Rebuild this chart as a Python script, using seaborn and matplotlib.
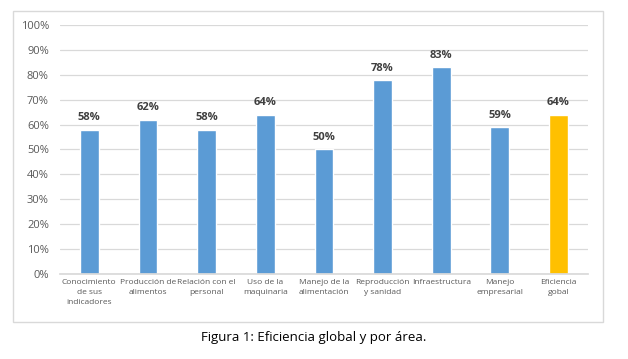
import matplotlib
matplotlib.use("Agg")
import matplotlib.pyplot as plt
import seaborn as sns
import pandas as pd
from matplotlib.patches import Rectangle
from matplotlib.ticker import PercentFormatter

areas = ["Conocimiento\nde sus\nindicadores", "Producción de\nalimentos",
         "Relación con el\npersonal", "Uso de la\nmaquinaria",
         "Manejo de la\nalimentación", "Reproducción\ny sanidad",
         "Infraestructura", "Manejo\nempresarial", "Eficiencia\ngobal"]
eficiencia = [0.58, 0.62, 0.58, 0.64, 0.50, 0.78, 0.83, 0.59, 0.64]
etiquetas = ["58%", "62%", "58%", "64%", "50%", "78%", "83%", "59%", "64%"]
colores = ["#5B9BD5"] * 8 + ["#FFC000"]

df = pd.DataFrame({"Area": areas, "Eficiencia": eficiencia})

sns.set_theme(style="white")
plt.rcParams["font.family"] = ["Open Sans", "DejaVu Sans"]

fig = plt.figure(figsize=(6.28, 3.59), dpi=100)
ax = fig.add_axes([0.0955, 0.2376, 0.8405, 0.6924])

sns.barplot(data=df, x="Area", y="Eficiencia", hue="Area", palette=colores,
            legend=False, width=0.32, ax=ax, saturation=1)

for i, (v, t) in enumerate(zip(eficiencia, etiquetas)):
    ax.text(i, v + 0.025, t, ha="center", va="bottom", fontsize=8,
            fontweight="bold", color="#404040")

ax.set_ylim(0, 1.0)
ax.set_xlim(-0.5, len(areas) - 0.5)
ax.set_yticks([i / 10 for i in range(11)])
ax.yaxis.set_major_formatter(PercentFormatter(1.0, decimals=0))
ax.grid(axis="y", color="#D9D9D9", linewidth=0.9)
ax.set_axisbelow(True)
for s in ["top", "right", "left"]:
    ax.spines[s].set_visible(False)
ax.spines["bottom"].set_color("#D9D9D9")
ax.tick_params(axis="y", labelsize=8, colors="#595959", length=0, pad=8)
ax.tick_params(axis="x", labelsize=6, colors="#595959", length=0, pad=4)
plt.setp(ax.get_xticklabels(), linespacing=1.6)
ax.set_xlabel("")
ax.set_ylabel("")

fig.patches.append(Rectangle((13 / 628, 1 - 322 / 359), 590 / 628, 311 / 359,
                             transform=fig.transFigure, fill=False,
                             edgecolor="#D9D9D9", linewidth=1))

fig.text(314 / 628, 1 - 337 / 359, "Figura 1: Eficiencia global y por área.",
         ha="center", va="center", fontsize=9.5, color="black")

fig.savefig("out.png", dpi=100)
